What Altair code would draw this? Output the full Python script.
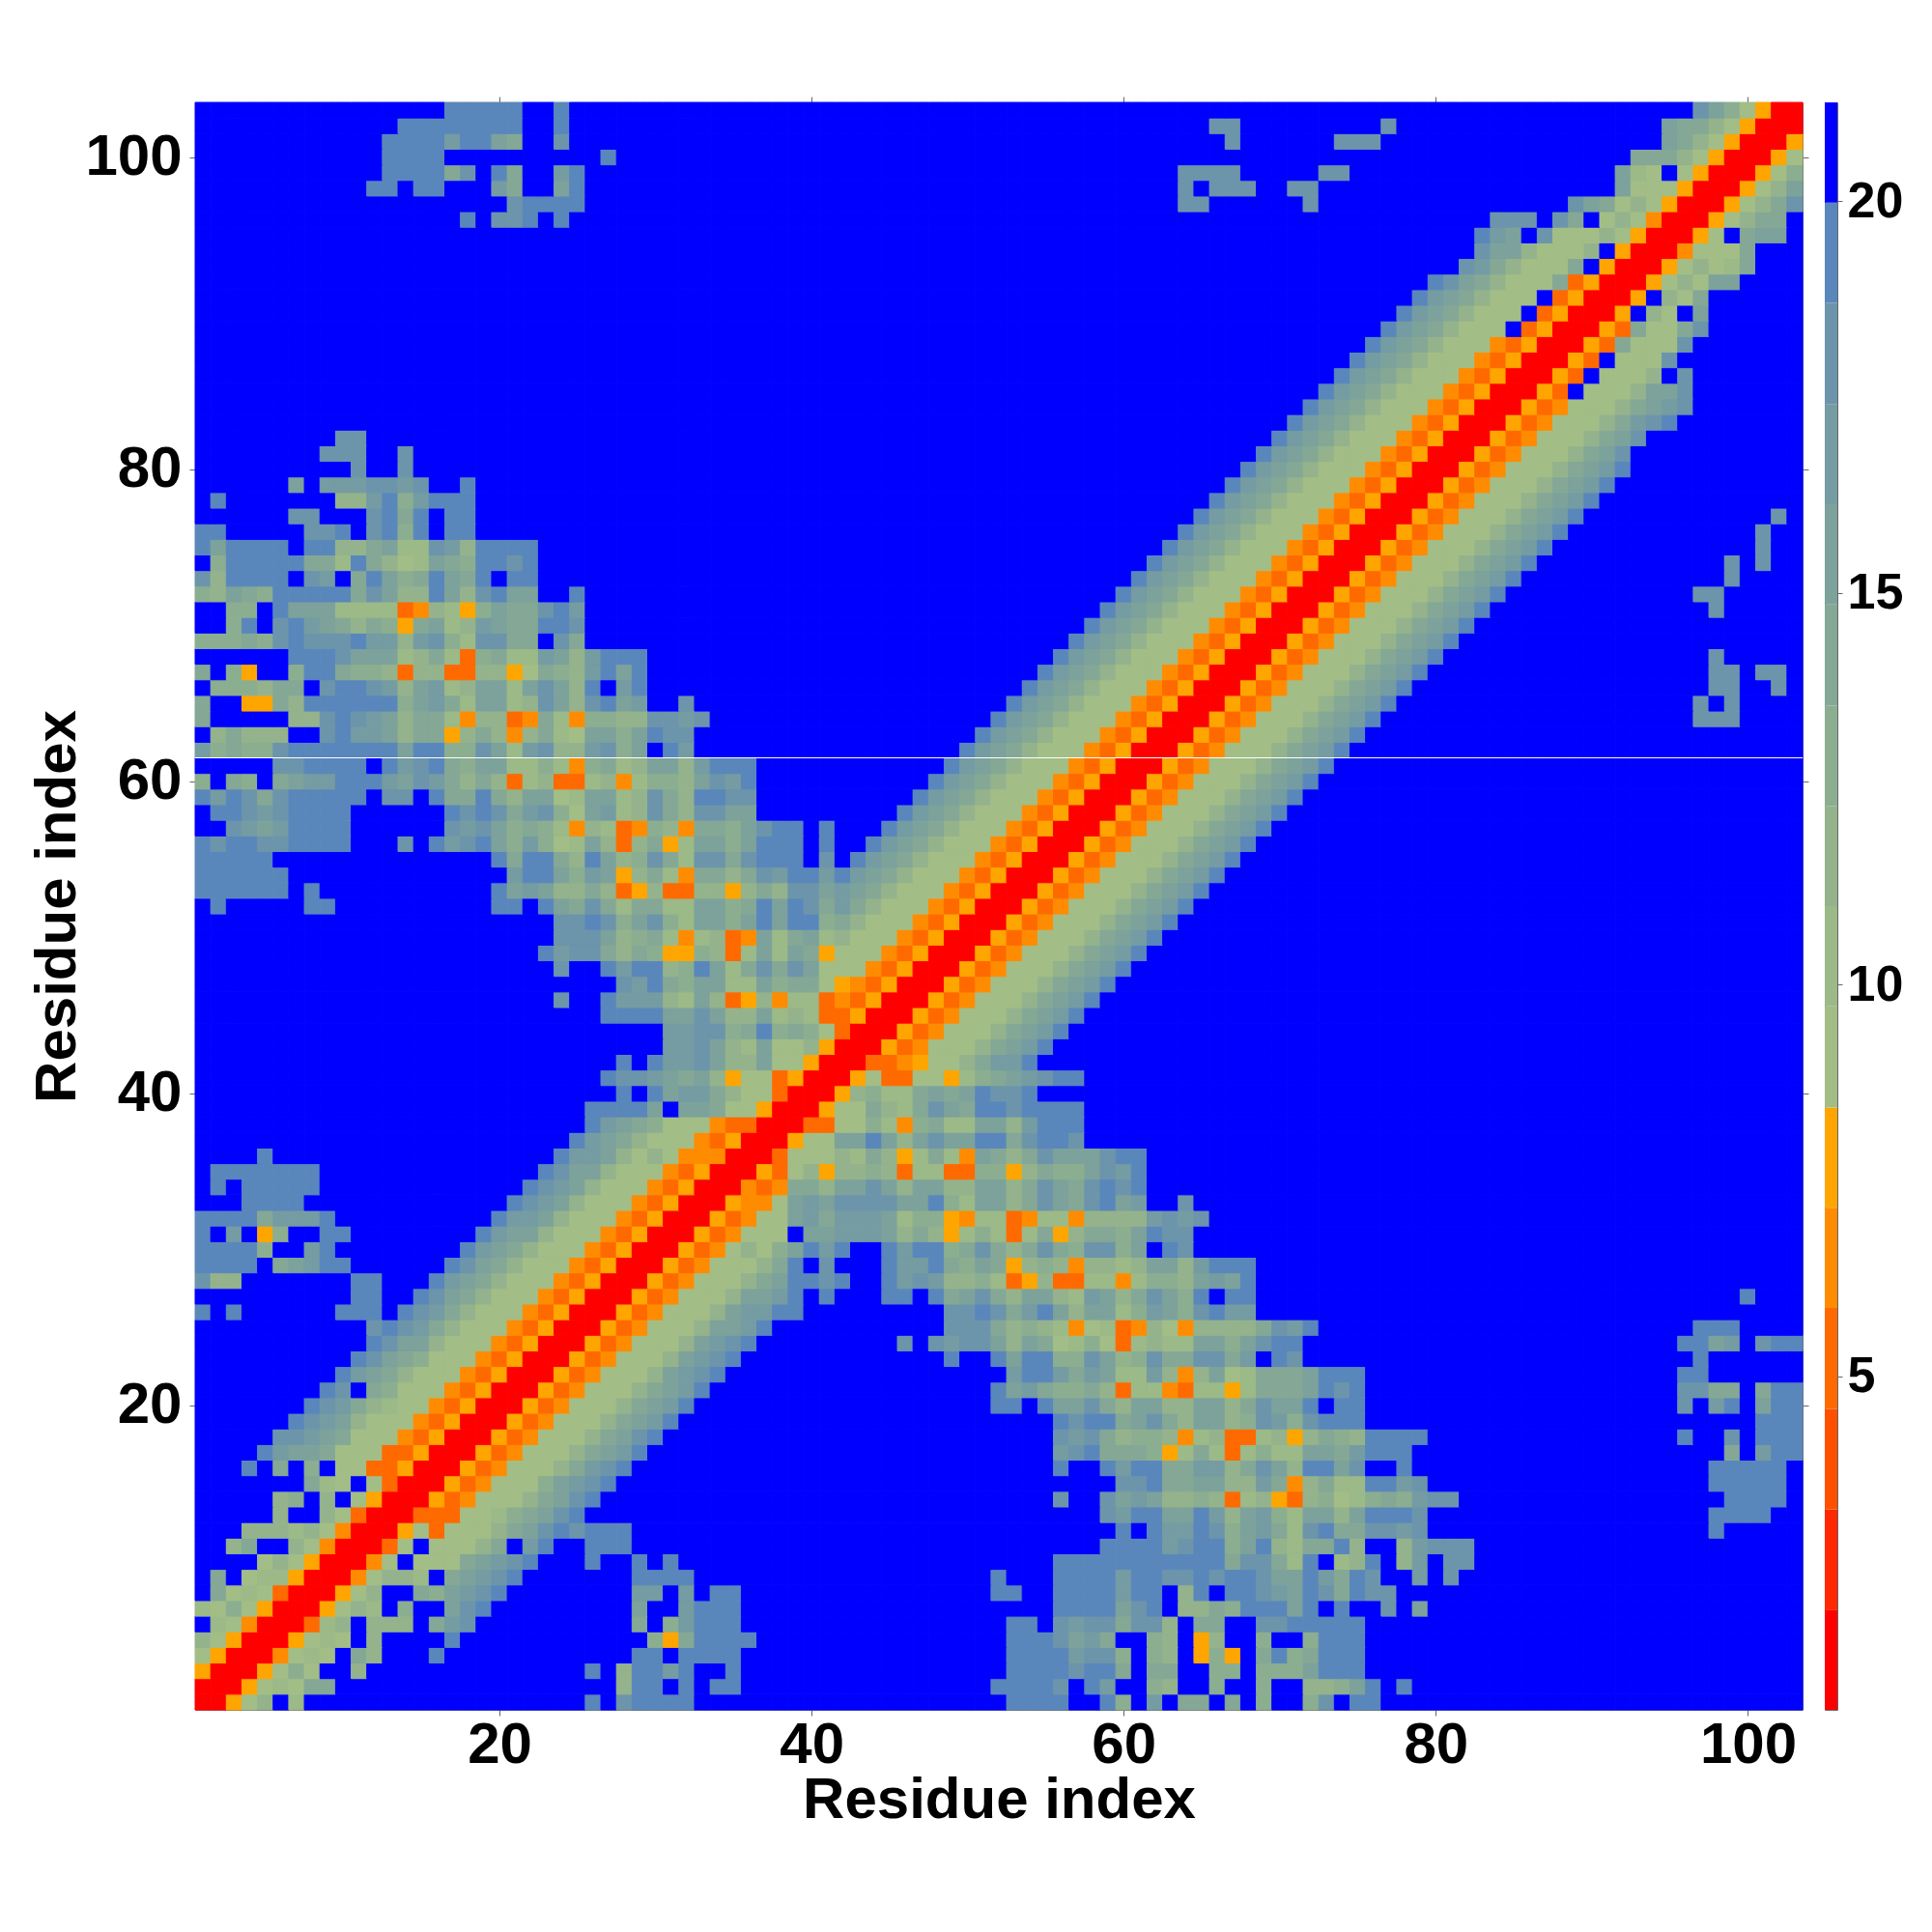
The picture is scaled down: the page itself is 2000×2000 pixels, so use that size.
import altair as alt
import pandas as pd

N_RES = 103
BLUE_LEVEL = 15
LEVEL_COLORS = ["#ff0000", "#ff2800", "#ff5000", "#ff6a00", "#ff8c00", "#ffa500",
                "#a3bd87", "#9cb988", "#94b38c", "#8cae90", "#84a895", "#7ca29b",
                "#749ca2", "#6c95ab", "#5a87bb", "#0000ff"]
LEVEL_EDGES = [0.74, 2.02, 3.30, 4.58, 5.87, 7.15, 8.43, 9.72, 11.0, 12.28, 13.56,
               14.85, 16.13, 17.41, 18.70, 19.98, 21.26]
AXIS_TICKS = [20, 40, 60, 80, 100]
BAR_TICKS = [5, 10, 15, 20]
GAP_ROW = [61.5]

# (row, first column, hex level of each successive cell); symmetric map, unlisted cells are level f
SEGMENTS = [
    (1, 1, "00568f7"), (1, 26, "efdeeee"), (1, 53, "eeeeffe9fcfaafaf9ff9dfee"),
    (2, 2, "005676aa"), (2, 28, "8eefefee"), (2, 52, "eeeedfecff98ff9ff9ff889befe"),
    (3, 3, "005696ff8"), (3, 26, "ef8eeceffe"), (3, 53, "eeeedeeafaaff99f999beee"),
    (4, 4, "004676fa8"), (4, 16, "e"), (4, 29, "eefeeee"), (4, 53, "eeeecdd9f98f595fae9aeee"),
    (5, 5, "005676f8"), (5, 17, "e"), (5, 30, "95aeeee"), (5, 53, "eeedbcaff98f58ff9ff9eee"),
    (6, 6, "00378f888facd"), (6, 29, "af9ceee"), (6, 53, "eefdcddadd8faaffddeeeee"),
    (7, 7, "005687f9ffbde"), (7, 29, "bffceee"), (7, 56, "eeeebdef88a9eeebefeffdfb"),
    (8, 8, "00568ffa9bcde"), (8, 29, "ccfcfee"), (8, 52, "ee"), (8, 56, "eeeeceef8efeedcbedaedd"),
    (9, 9, "0046887fabcde"), (9, 29, "eeee"), (9, 52, "e"), (9, 56, "eeeeceeddedeedbbecaedffcfd"),
    (10, 10, "0046f666abcde"), (10, 26, "e"), (10, 29, "efe"), (10, 56, "eeeeeeeeeeeadda7ef78ef8cfdd"),
    (11, 11, "0036f6668afce"), (11, 26, "eee"), (11, 59, "eeeecdee9be87aae8ff8cddd"),
    (12, 12, "005636668abdedeee"), (12, 59, "fefecced9bca7deaaddcd"), (12, 98, "e"),
    (13, 13, "003336679abde"), (13, 59, "dceebbec8bc97bb8beeed"), (13, 98, "eeee"),
    (14, 14, "005346668abde"), (14, 56, "dffdbcb88983785389679a9cdd"), (14, 99, "eeee"),
    (15, 15, "005346669bcde"), (15, 60, "ddeaabb88ca48a77eecd"), (15, 98, "eeeee"),
    (16, 16, "005346668acde"), (16, 56, "effeceeaacc8adb8eebdffe"), (16, 98, "eeeee"),
    (17, 17, "005346668abce"), (17, 56, "cdeaaa957a737977bbaceee"), (17, 99, "a"), (17, 101, "cee"),
    (18, 18, "005346668abde"), (18, 56, "dcda8998478337858a98eeee"), (18, 96, "e"), (18, 99, "d"), (18, 101, "eee"),
    (19, 19, "005346668abce"), (19, 56, "edeeabda8bb89dc9deee"), (19, 101, "eee"),
    (20, 20, "005346668abce"), (20, 52, "eefebbda8bb88bb8adbbefee"), (20, 96, "d"), (20, 98, "ce"), (20, 101, "bee"),
    (21, 21, "005346668abce"), (21, 52, "ebca99a8377437757aaabede"), (21, 96, "ddaa"), (21, 101, "aee"),
    (22, 22, "005346668bcde"), (22, 53, "ceecacb77c848b67aaabeee"), (22, 96, "ee"),
    (23, 23, "005346668bcde"), (23, 49, "e"), (23, 52, "ebee99db89daaddacfed"), (23, 97, "e"),
    (24, 24, "005346668bcde"), (24, 46, "dfdcddb8ba679637877bb9bdee"), (24, 96, "eebc"), (24, 101, "dee"),
    (25, 25, "005346668bbce"), (25, 49, "ddda8987467348648888adce"), (25, 97, "eee"),
    (26, 26, "005346668bccee"), (26, 49, "ddedaceb8bb79cb9decc"),
    (27, 27, "005346668bbcefe"), (27, 45, "eefeabda8bb87cb8adb9efee"), (27, 100, "e"),
    (28, 28, "005346668abeede"), (28, 45, "ecdc8897358337747998bcbe"),
    (29, 29, "005346668aefdfff"), (29, 45, "eccea9ba589848878bb8ceee"),
    (30, 30, "005346869bece"), (30, 45, "ecee9ada8ada9dd9bfed"),
    (31, 31, "00534666fbbcccb8a8579737a58aa9bedd"),
    (32, 32, "0053466bcacccb7995477347748888cdcd"),
    (33, 33, "005446bcbddddbbe97bb8adbadebc"), (33, 64, "d"),
    (34, 34, "00434aa8bbdb8bb88bb8adbadede"),
    (35, 35, "00536858898377339958a99bdce"),
    (36, 36, "00366687a857a74ba8adbbbdee"),
    (37, 37, "00566bbeb8bdbbeeadeed"),
    (38, 38, "0033669749a77bb8ceee"),
    (39, 39, "00566a87adbaeedeeee"),
    (40, 40, "0058977ababedde"),
    (41, 41, "00563366579abcdee"),
    (42, 42, "003345668acce"),
    (43, 43, "005346668abce"), (44, 44, "005346668abce"), (45, 45, "005346668abce"),
    (46, 46, "005346668abce"), (47, 47, "005346668abce"), (48, 48, "005346668abce"),
    (49, 49, "005346668abce"), (50, 50, "005346668abce"), (51, 51, "005346668abce"),
    (52, 52, "005346668abce"), (53, 53, "005346668abce"), (54, 54, "005346668abce"),
    (55, 55, "005346668abce"), (56, 56, "005346668abce"), (57, 57, "005346668abce"),
    (58, 58, "005346668abce"), (59, 59, "005346668abce"), (60, 60, "005346668abce"),
    (61, 61, "005346668abce"), (62, 62, "005346668abce"), (63, 63, "005346668abce"),
    (64, 64, "005346668abce"), (64, 97, "ddd"),
    (65, 65, "005346668abce"), (65, 97, "dfd"),
    (66, 66, "005346668abce"), (66, 98, "dd"), (66, 102, "d"),
    (67, 67, "005346668abce"), (67, 98, "dd"), (67, 101, "dd"),
    (68, 68, "005346668abce"), (68, 98, "d"),
    (69, 69, "005346668abce"), (70, 70, "005346668abce"),
    (71, 71, "005346668abce"), (71, 98, "d"),
    (72, 72, "005346668abce"), (72, 97, "dd"),
    (73, 73, "005346668abce"), (73, 99, "d"),
    (74, 74, "005346668abce"), (74, 99, "d"), (74, 101, "d"),
    (75, 75, "005346668abce"), (75, 101, "d"),
    (76, 76, "005346668abce"), (76, 101, "d"),
    (77, 77, "005346668abce"), (77, 102, "d"),
    (78, 78, "005346668abce"), (79, 79, "005346668abce"), (80, 80, "005346668abce"),
    (81, 81, "005346668abd"), (82, 82, "005346668abd"),
    (83, 83, "005346668acde"), (84, 84, "005346668abcd"),
    (85, 85, "0053f6668bbd"), (86, 86, "0053f6668fd"), (87, 87, "0053f666d"),
    (88, 88, "0053a666d"), (89, 89, "0053a66ad"), (90, 90, "005f86fb"),
    (91, 91, "005f86a"), (92, 92, "005686bb"), (93, 93, "0056867a"),
    (94, 94, "004666a"), (95, 95, "0056fabb"), (96, 96, "00568aa"),
    (97, 97, "00568ad"), (98, 98, "00568b"), (99, 99, "00569"),
    (100, 100, "0056"), (101, 101, "005"), (102, 102, "00"), (103, 103, "0"),
]

cells = {(r, c): BLUE_LEVEL for r in range(1, N_RES + 1) for c in range(1, N_RES + 1)}
for row, start, levels in SEGMENTS:
    for i, ch in enumerate(levels):
        cells[(row, start + i)] = int(ch, 16)
        cells[(start + i, row)] = int(ch, 16)

df = pd.DataFrame([
    {"x0": c - 0.5, "x1": c + 0.5, "y0": r - 0.5, "y1": r + 0.5, "level": v}
    for (r, c), v in cells.items()
])

FONT = "Liberation Sans"
DOMAIN = [0.5, 103.5]
color_scale = alt.Scale(domain=list(range(16)), range=LEVEL_COLORS)

rects = alt.Chart(df).mark_rect(strokeWidth=1).encode(
    x=alt.X("x0:Q", scale=alt.Scale(domain=DOMAIN, nice=False, zero=False),
            axis=alt.Axis(values=AXIS_TICKS, title="Residue index", grid=False, tickSize=6,
                          tickColor="#666666", domain=False, labelPadding=1, titlePadding=-2,
                          format="d")),
    x2="x1:Q",
    y=alt.Y("y0:Q", scale=alt.Scale(domain=DOMAIN, nice=False, zero=False),
            axis=alt.Axis(values=AXIS_TICKS, title="Residue index", grid=False, tickSize=6,
                          tickColor="#666666", domain=False, labelPadding=8, titlePadding=-3,
                          format="d")),
    y2="y1:Q",
    color=alt.Color("level:O", scale=color_scale, legend=None),
    stroke=alt.Stroke("level:O", scale=color_scale, legend=None),
)

tick_df = pd.DataFrame({"t": AXIS_TICKS})
mirror = alt.Chart(tick_df).mark_point(opacity=0).encode(
    x=alt.X("t:Q", scale=alt.Scale(domain=DOMAIN, nice=False, zero=False),
            axis=alt.Axis(orient="top", values=AXIS_TICKS, labels=False, title=None, grid=False,
                          tickSize=6, tickColor="#666666", domain=False)),
    y=alt.Y("t:Q", scale=alt.Scale(domain=DOMAIN, nice=False, zero=False),
            axis=alt.Axis(orient="right", values=AXIS_TICKS, labels=False, title=None, grid=False,
                          tickSize=6, tickColor="#666666", domain=False)),
)

gap = alt.Chart(pd.DataFrame({"g": GAP_ROW})).mark_rule(color="white", strokeWidth=1.2).encode(
    y=alt.Y("g:Q", scale=alt.Scale(domain=DOMAIN, nice=False, zero=False), axis=None),
)

main = alt.layer(rects, mirror, gap).resolve_scale(x="independent", y="independent").properties(
    width=1664, height=1664)

bar_df = pd.DataFrame({"lo": LEVEL_EDGES[:-1], "hi": LEVEL_EDGES[1:], "level": list(range(16))})
bar = alt.Chart(bar_df).mark_rect().encode(
    y=alt.Y("lo:Q", scale=alt.Scale(domain=[LEVEL_EDGES[0], LEVEL_EDGES[-1]], nice=False, zero=False),
            axis=alt.Axis(orient="right", values=BAR_TICKS, title=None, grid=False, tickSize=5,
                          tickColor="#666666", domain=False, labelPadding=5, labelFontSize=52,
                          format="d")),
    y2="hi:Q",
    color=alt.Color("level:O", scale=color_scale, legend=None),
).properties(width=13, height=1664)

chart = alt.hconcat(main, bar, spacing=15).resolve_scale(color="independent").properties(
    padding={"left": 21, "top": 91, "right": 5, "bottom": 5},
    background="white",
).configure_view(stroke="#666666", strokeWidth=1).configure_axis(
    labelFont=FONT, labelFontWeight="bold", labelFontSize=60, labelColor="black",
    titleFont=FONT, titleFontWeight="bold", titleFontSize=60, titleColor="black",
)

chart.save("out.html", embed_options={"renderer": "svg", "actions": False})
